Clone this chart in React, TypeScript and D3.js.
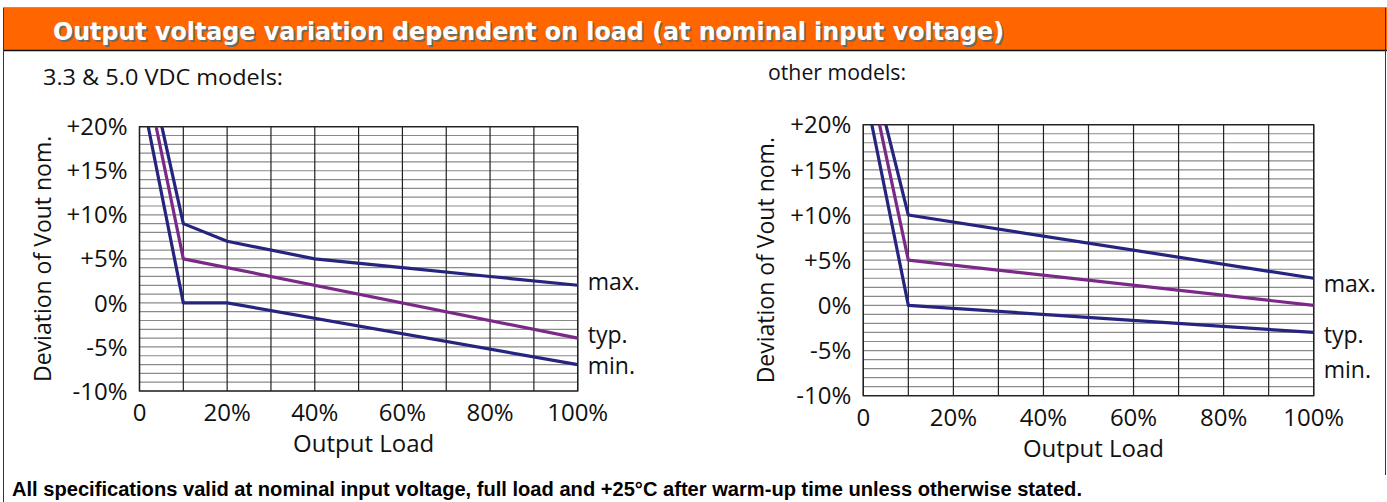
import React from 'react';
import * as d3 from 'd3';

// percent values: [output load %, deviation %]
const leftMax: [number, number][] = [[5.1, 20], [10, 9], [20, 7], [40, 5], [60, 4], [80, 3], [100, 2]];
const leftTyp: [number, number][] = [[3.8, 20], [10, 5], [100, -4]];
const leftMin: [number, number][] = [[2.0, 20], [10, 0], [20, 0], [100, -7]];

const rightMax: [number, number][] = [[5.0, 20], [10, 10], [100, 3]];
const rightTyp: [number, number][] = [[3.6, 20], [10, 5], [100, 0]];
const rightMin: [number, number][] = [[1.9, 20], [10, 0], [100, -3]];

const yTicks = [20, 15, 10, 5, 0, -5, -10];
const yTickLabels = ['+20%', '+15%', '+10%', '+5%', '0%', '-5%', '-10%'];
const xTicks = [0, 20, 40, 60, 80, 100];
const xTickLabels = ['0', '20%', '40%', '60%', '80%', '100%'];
const seriesNames = ['max.', 'typ.', 'min.'];

const leftLabelLevels = [2, -4, -7.5];
const rightLabelLevels = [2, -3.6, -7.5];

const NAVY = '#25247e';
const PURPLE = '#7a2a86';
const FONT = '"Open Sans", sans-serif';

type ChartProps = {
  x0: number;
  x1: number;
  y0: number;
  y1: number;
  maxS: [number, number][];
  typS: [number, number][];
  minS: [number, number][];
  labelLevels: number[];
  subtitle: string;
  subX: number;
  subY: number;
  subW: number;
};

const Chart = ({ x0, x1, y0, y1, maxS, typS, minS, labelLevels, subtitle, subX, subY, subW }: ChartProps) => {
  const x = d3.scaleLinear().domain([0, 100]).range([x0, x1]);
  const y = d3.scaleLinear().domain([-10, 20]).range([y1, y0]);
  const line = d3
    .line<[number, number]>()
    .x((d) => x(d[0]))
    .y((d) => y(d[1]));

  const hGrid = d3.range(-10, 21, 1);
  const vGrid = d3.range(0, 101, 10);
  const midX = (x0 + x1) / 2;
  const midY = (y0 + y1) / 2;

  return (
    <g fontFamily={FONT} fill="#111">
      <text x={subX} y={subY} fontSize={22} textLength={subW} lengthAdjust="spacingAndGlyphs">
        {subtitle}
      </text>
      {/* grid */}
      {hGrid.map((v) => (
        <line key={'h' + v} x1={x0} x2={x1} y1={y(v)} y2={y(v)} stroke="#8a8a8a" strokeWidth={1.2} />
      ))}
      {vGrid.map((v) => (
        <line key={'v' + v} x1={x(v)} x2={x(v)} y1={y0} y2={y1} stroke="#222" strokeWidth={1.2} />
      ))}
      <rect x={x0} y={y0} width={x1 - x0} height={y1 - y0} fill="none" stroke="#222" strokeWidth={1.4} />

      {/* curves */}
      <path d={line(minS) || ''} fill="none" stroke={NAVY} strokeWidth={3.2} strokeLinejoin="round" />
      <path d={line(typS) || ''} fill="none" stroke={PURPLE} strokeWidth={3.2} strokeLinejoin="round" />
      <path d={line(maxS) || ''} fill="none" stroke={NAVY} strokeWidth={3.2} strokeLinejoin="round" />

      {/* series labels */}
      {seriesNames.map((n, i) => (
        <text key={n} x={x1 + 10} y={y(labelLevels[i])} dy={5} fontSize={23}>
          {n}
        </text>
      ))}

      {/* y ticks */}
      {yTicks.map((v, i) => (
        <text key={'yt' + v} x={x0 - 12} y={y(v)} dy="0.36em" textAnchor="end" fontSize={24}>
          {yTickLabels[i]}
        </text>
      ))}
      {/* x ticks */}
      {xTicks.map((v, i) => (
        <text key={'xt' + v} x={x(v)} y={y1 + 30} textAnchor="middle" fontSize={24}>
          {xTickLabels[i]}
        </text>
      ))}
      <text x={midX + 5} y={y1 + 61} textAnchor="middle" fontSize={24}>
        Output Load
      </text>
      <text
        transform={`translate(${x0 - 89}, ${midY}) rotate(-90)`}
        textAnchor="middle"
        fontSize={23}
      >
        Deviation of Vout nom.
      </text>
    </g>
  );
};

export default function App() {
  const W = 1387,
    H = 502;
  const title = 'Output voltage variation dependent on load (at nominal input voltage)';
  return (
    <div style={{ position: 'absolute', left: 0, top: 0 }}>
      <svg width={W} height={H} style={{ display: 'block', background: '#fff' }}>
        {/* header band */}
        <line x1={3} x2={W} y1={7.5} y2={7.5} stroke="#999" strokeWidth={1} />
        <rect x={3} y={8} width={W - 3} height={42} fill="#ff6600" />
        <line x1={3} x2={W} y1={50.5} y2={50.5} stroke="#111" strokeWidth={1.5} />
        <line x1={3.5} x2={3.5} y1={8} y2={H} stroke="#333" strokeWidth={1} />
        <line x1={W - 1.5} x2={W - 1.5} y1={8} y2={475} stroke="#333" strokeWidth={1} />
        <text
          x={54.5}
          y={41.5}
          fontFamily='"DejaVu Sans", Verdana, sans-serif'
          fontWeight="bold"
          fontSize={25}
          fill="#6b6b6b"
          textLength={951}
          lengthAdjust="spacingAndGlyphs"
        >
          {title}
        </text>
        <text
          x={53}
          y={40}
          fontFamily='"DejaVu Sans", Verdana, sans-serif'
          fontWeight="bold"
          fontSize={25}
          fill="#fff"
          textLength={951}
          lengthAdjust="spacingAndGlyphs"
        >
          {title}
        </text>

        <Chart
          x0={139.5}
          x1={577.7}
          y0={126.7}
          y1={391}
          maxS={leftMax}
          typS={leftTyp}
          minS={leftMin}
          labelLevels={leftLabelLevels}
          subtitle="3.3 & 5.0 VDC models:"
          subX={43}
          subY={85}
          subW={240}
        />
        <Chart
          x0={863.3}
          x1={1313.7}
          y0={124.7}
          y1={395.7}
          maxS={rightMax}
          typS={rightTyp}
          minS={rightMin}
          labelLevels={rightLabelLevels}
          subtitle="other models:"
          subX={768}
          subY={80}
          subW={138}
        />

        <text
          x={12}
          y={496}
          fontFamily='"Liberation Sans", Arial, sans-serif'
          fontWeight="bold"
          fontSize={20}
          fill="#000"
          textLength={1070}
          lengthAdjust="spacingAndGlyphs"
        >
          All specifications valid at nominal input voltage, full load and +25°C after warm-up time unless otherwise stated.
        </text>
      </svg>
    </div>
  );
}
